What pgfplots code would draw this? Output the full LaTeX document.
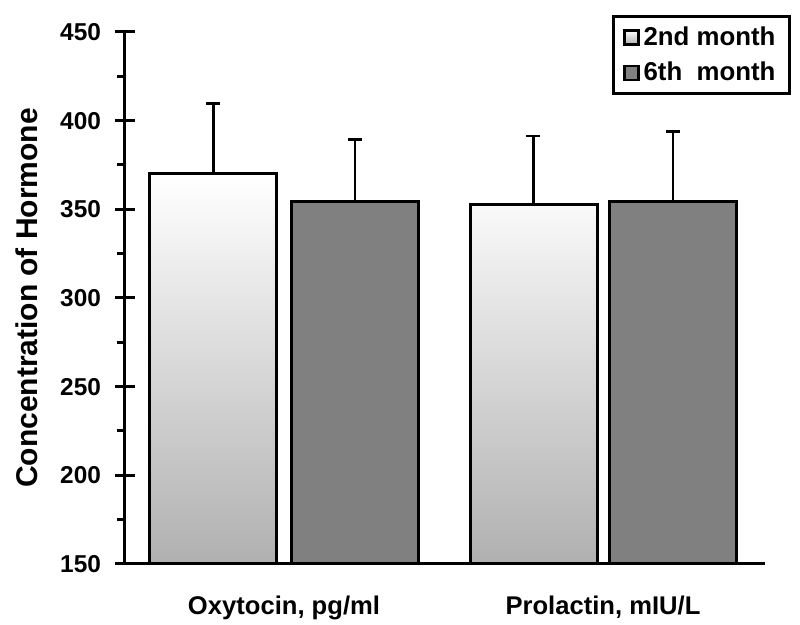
\documentclass[border=0pt]{standalone}
\usepackage{pgfplots}
\pgfplotsset{compat=1.18}
\usepackage{fontspec}
\setmainfont{Liberation Sans}
\definecolor{darkbar}{RGB}{128,128,128}
\definecolor{lightbot}{RGB}{176,176,176}
\begin{document}
\begin{tikzpicture}
\useasboundingbox (0,0) rectangle (400pt,312.5pt);
\begin{axis}[
  at={(62.5pt,30.5pt)}, anchor=south west,
  scale only axis, width=320pt, height=266pt,
  xmin=0, xmax=640, ymin=150, ymax=450,
  axis x line*=bottom, axis y line*=left,
  axis line style={line width=1.5pt, black},
  every tick/.style={black, line width=1.5pt},
  ytick={150,200,...,450},
  minor ytick={175,225,...,425},
  tick align=outside,
  major tick length=5pt, minor tick length=4pt,
  extra y ticks={200,250,...,450},
  extra y tick labels={},
  extra y tick style={tick align=inside},
  xtick={159,478},
  xticklabels={{Oxytocin, pg/ml},{Prolactin, mIU/L}},
  x tick style={draw=none},
  xticklabel style={font=\bfseries\fontsize{12.8}{15}\selectfont, yshift=-7.5pt},
  yticklabel style={font=\bfseries\fontsize{12.2}{14}\selectfont, xshift=-3.5pt},
  /pgf/number format/assume math mode=true,
  ylabel={Concentration of Hormone},
  ylabel style={font=\bfseries\fontsize{15}{18}\selectfont, at={(axis description cs:-0.153,0.5)}, anchor=center},
  legend style={at={(axis description cs:1.0406,1.032)}, anchor=north east,
    draw=black, line width=1.5pt, font=\bfseries\fontsize{12.9}{15}\selectfont,
    inner xsep=5pt, inner ysep=3pt, row sep=3pt},
  legend cell align=left,
  legend image code/.code={\draw[#1, line width=1.2pt] (0pt,-3.5pt) rectangle (7pt,3.5pt);},
]
\addplot[ybar, bar width=127, bar shift=0pt, draw=black, line width=1.5pt,
  top color=white, bottom color=lightbot]
  coordinates {(88.5,370) (408.5,352.5)};
\addlegendentry{2nd month}
\addplot[ybar, bar width=127, bar shift=0pt, draw=black, line width=1.5pt, fill=darkbar]
  coordinates {(230,354.5) (548,354.5)};
\addlegendentry{6th\ \ month}
\addplot[draw=none, mark=none, forget plot,
  error bars/.cd, y dir=plus, y explicit,
  error bar style={draw=black, line width=1.4pt},
  error mark options={rotate=90, mark size=3.5pt, line width=1.4pt, draw=black}]
  coordinates {(88.5,370) +- (0,39.5) (408.5,352.5) +- (0,38.8) (230,354.5) +- (0,34.8) (548,354.5) +- (0,39.2)};
\end{axis}
\end{tikzpicture}
\end{document}
